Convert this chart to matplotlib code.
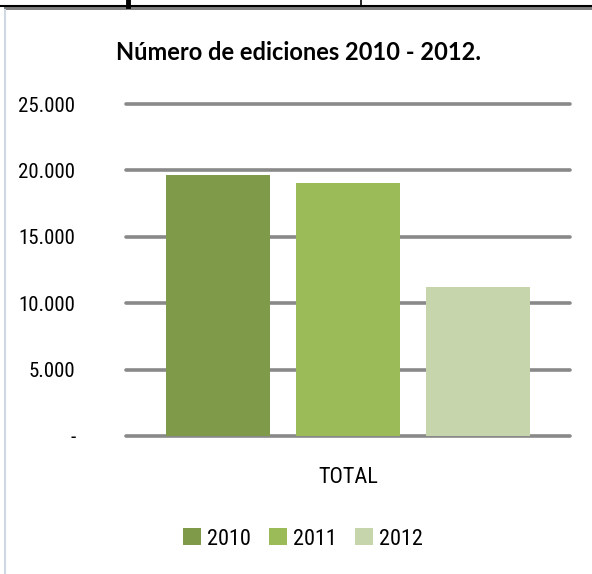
import matplotlib
matplotlib.use("Agg")
import matplotlib.pyplot as plt
from matplotlib import font_manager as fm
from matplotlib.lines import Line2D
from matplotlib.patches import Rectangle

categories = ["TOTAL"]
series = ["2010", "2011", "2012"]
values = [19650, 19050, 11220]
colors = ["#7f9a48", "#9bbb59", "#c6d5ab"]
yticks = [0, 5000, 10000, 15000, 20000, 25000]
ytick_labels = ["-", "5.000", "10.000", "15.000", "20.000", "25.000"]
title = "Número de ediciones 2010 - 2012."

names = {f.name for f in fm.fontManager.ttflist}
narrow = [n for n in ["Roboto Condensed", "Open Sans Condensed", "DejaVu Sans Condensed",
                      "Liberation Sans Narrow", "Noto Sans Condensed"] if n in names]
plt.rcParams['font.family'] = narrow[:1] + ['Lato', 'DejaVu Sans']
condensed = bool(narrow)
fs = 15 if condensed else 14

W, H = 592, 574
fig = plt.figure(figsize=(W / 100, H / 100), dpi=100)
fig.patch.set_facecolor("white")

def fx(x):
    return x / W

def fy(y):
    return 1 - y / H

# page decorations (table fragment above and left border)
fig.add_artist(Line2D([0, 1], [fy(5.5), fy(5.5)], color="black", lw=1.5, transform=fig.transFigure))
fig.add_artist(Line2D([fx(128), fx(128)], [fy(0), fy(5.5)], color="black", lw=3.5, transform=fig.transFigure))
fig.add_artist(Line2D([fx(361), fx(361)], [fy(0), fy(5.5)], color="black", lw=1.2, transform=fig.transFigure))
fig.add_artist(Rectangle((fx(4), fy(10)), 1 - fx(4), (fy(6.5) - fy(10)), color="#808080", transform=fig.transFigure, lw=0))
fig.add_artist(Line2D([fx(4.5), fx(4.5)], [fy(10), 0], color="#d0d8e4", lw=1.5, transform=fig.transFigure))

ax = fig.add_axes([fx(126), fy(436), fx(570) - fx(126), fy(104) - fy(436)])
ax.set_ylim(0, 25000)
ax.set_xlim(-1.71, 1.71)

for yv in yticks:
    ax.axhline(yv, color="#898989", lw=2.6, solid_capstyle="round", zorder=1, clip_on=False)

offsets = [-1, 0, 1]
handles = []
for off, s, v, c in zip(offsets, series, values, colors):
    b = ax.bar(off, v, width=0.8, color=c, label=s, zorder=2)
    handles.append(b)

ax.set_yticks(yticks)
ax.set_yticklabels(ytick_labels, fontsize=fs)
ax.set_xticks([0])
ax.set_xticklabels(categories, fontsize=fs + 1)
ax.tick_params(axis="y", length=0, pad=36.5)
ax.tick_params(axis="x", length=0, pad=22)
for sp in ax.spines.values():
    sp.set_visible(False)

fig.text(fx(299), fy(52), title, ha="center", va="center", fontsize=17,
         fontweight="bold", family=["Lato", "DejaVu Sans"])

fig.legend(handles=handles, labels=series, loc="center", bbox_to_anchor=(fx(303), fy(539)),
           ncol=3, frameon=False, fontsize=fs + 1, handlelength=0.8, handleheight=0.8,
           handletextpad=0.25, columnspacing=0.85)

fig.savefig("out.png", dpi=100, facecolor="white")
